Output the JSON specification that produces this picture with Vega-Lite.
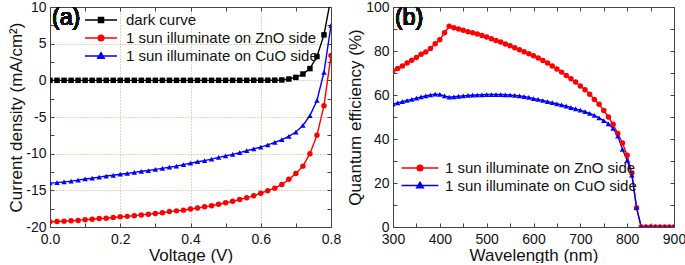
{
  "$schema": "https://vega.github.io/schema/vega-lite/v6.json",
  "padding": {"left": 7, "top": 0, "right": 0, "bottom": 0},
  "background": "white",
  "config": {
    "font": "Liberation Sans",
    "view": {"stroke": null},
    "axis": {
      "labelFont": "Liberation Sans", "titleFont": "Liberation Sans",
      "labelFontSize": 14, "titleFontSize": 17, "titleFontWeight": "normal",
      "labelColor": "#111", "titleColor": "#111",
      "domainColor": "#444", "tickColor": "#444", "domainWidth": 1, "tickWidth": 1,
      "grid": false, "labelPadding": 9, "labelFlush": false, "minExtent": 0
    },
    "legend": {"labelFont": "Liberation Sans", "labelFontSize": 15, "labelColor": "#111", "padding": 0, "labelLimit": 400}
  },
  "datasets": {
    "iv": [
      {"s":"dark curve","V":0.00,"J":0},{"s":"dark curve","V":0.02,"J":0},{"s":"dark curve","V":0.04,"J":0},{"s":"dark curve","V":0.06,"J":0},{"s":"dark curve","V":0.08,"J":0},
      {"s":"dark curve","V":0.10,"J":0},{"s":"dark curve","V":0.12,"J":0},{"s":"dark curve","V":0.14,"J":0},{"s":"dark curve","V":0.16,"J":0},{"s":"dark curve","V":0.18,"J":0},
      {"s":"dark curve","V":0.20,"J":0},{"s":"dark curve","V":0.22,"J":0},{"s":"dark curve","V":0.24,"J":0},{"s":"dark curve","V":0.26,"J":0},{"s":"dark curve","V":0.28,"J":0},
      {"s":"dark curve","V":0.30,"J":0},{"s":"dark curve","V":0.32,"J":0},{"s":"dark curve","V":0.34,"J":0},{"s":"dark curve","V":0.36,"J":0},{"s":"dark curve","V":0.38,"J":0},
      {"s":"dark curve","V":0.40,"J":0},{"s":"dark curve","V":0.42,"J":0},{"s":"dark curve","V":0.44,"J":0},{"s":"dark curve","V":0.46,"J":0},{"s":"dark curve","V":0.48,"J":0},
      {"s":"dark curve","V":0.50,"J":0},{"s":"dark curve","V":0.52,"J":0},{"s":"dark curve","V":0.54,"J":0},{"s":"dark curve","V":0.56,"J":0},{"s":"dark curve","V":0.58,"J":0.01},
      {"s":"dark curve","V":0.60,"J":0.01},{"s":"dark curve","V":0.62,"J":0.01},{"s":"dark curve","V":0.64,"J":0.02},{"s":"dark curve","V":0.66,"J":0.05},{"s":"dark curve","V":0.68,"J":0.18},
      {"s":"dark curve","V":0.70,"J":0.4},{"s":"dark curve","V":0.72,"J":0.86},{"s":"dark curve","V":0.74,"J":1.6},{"s":"dark curve","V":0.76,"J":3.25},{"s":"dark curve","V":0.78,"J":6.2},
      {"s":"dark curve","V":0.80,"J":11.3},
      {"s":"1 sun illuminate on ZnO side","V":0.00,"J":-19.3},{"s":"1 sun illuminate on ZnO side","V":0.02,"J":-19.25},{"s":"1 sun illuminate on ZnO side","V":0.04,"J":-19.2},{"s":"1 sun illuminate on ZnO side","V":0.06,"J":-19.15},{"s":"1 sun illuminate on ZnO side","V":0.08,"J":-19.1},
      {"s":"1 sun illuminate on ZnO side","V":0.10,"J":-19.0},{"s":"1 sun illuminate on ZnO side","V":0.12,"J":-18.95},{"s":"1 sun illuminate on ZnO side","V":0.14,"J":-18.85},{"s":"1 sun illuminate on ZnO side","V":0.16,"J":-18.8},{"s":"1 sun illuminate on ZnO side","V":0.18,"J":-18.7},
      {"s":"1 sun illuminate on ZnO side","V":0.20,"J":-18.6},{"s":"1 sun illuminate on ZnO side","V":0.22,"J":-18.55},{"s":"1 sun illuminate on ZnO side","V":0.24,"J":-18.45},{"s":"1 sun illuminate on ZnO side","V":0.26,"J":-18.35},{"s":"1 sun illuminate on ZnO side","V":0.28,"J":-18.25},
      {"s":"1 sun illuminate on ZnO side","V":0.30,"J":-18.15},{"s":"1 sun illuminate on ZnO side","V":0.32,"J":-18.05},{"s":"1 sun illuminate on ZnO side","V":0.34,"J":-17.9},{"s":"1 sun illuminate on ZnO side","V":0.36,"J":-17.8},{"s":"1 sun illuminate on ZnO side","V":0.38,"J":-17.7},
      {"s":"1 sun illuminate on ZnO side","V":0.40,"J":-17.55},{"s":"1 sun illuminate on ZnO side","V":0.42,"J":-17.4},{"s":"1 sun illuminate on ZnO side","V":0.44,"J":-17.25},{"s":"1 sun illuminate on ZnO side","V":0.46,"J":-17.1},{"s":"1 sun illuminate on ZnO side","V":0.48,"J":-16.9},
      {"s":"1 sun illuminate on ZnO side","V":0.50,"J":-16.7},{"s":"1 sun illuminate on ZnO side","V":0.52,"J":-16.5},{"s":"1 sun illuminate on ZnO side","V":0.54,"J":-16.25},{"s":"1 sun illuminate on ZnO side","V":0.56,"J":-16.0},{"s":"1 sun illuminate on ZnO side","V":0.58,"J":-15.75},
      {"s":"1 sun illuminate on ZnO side","V":0.60,"J":-15.4},{"s":"1 sun illuminate on ZnO side","V":0.62,"J":-15.05},{"s":"1 sun illuminate on ZnO side","V":0.64,"J":-14.7},{"s":"1 sun illuminate on ZnO side","V":0.66,"J":-14.2},{"s":"1 sun illuminate on ZnO side","V":0.68,"J":-13.5},
      {"s":"1 sun illuminate on ZnO side","V":0.70,"J":-12.7},{"s":"1 sun illuminate on ZnO side","V":0.72,"J":-11.7},{"s":"1 sun illuminate on ZnO side","V":0.74,"J":-10.0},{"s":"1 sun illuminate on ZnO side","V":0.76,"J":-7.5},{"s":"1 sun illuminate on ZnO side","V":0.78,"J":-3.45},
      {"s":"1 sun illuminate on ZnO side","V":0.80,"J":3.4},
      {"s":"1 sun illuminate on CuO side","V":0.00,"J":-14.0},{"s":"1 sun illuminate on CuO side","V":0.02,"J":-13.95},{"s":"1 sun illuminate on CuO side","V":0.04,"J":-13.85},{"s":"1 sun illuminate on CuO side","V":0.06,"J":-13.75},{"s":"1 sun illuminate on CuO side","V":0.08,"J":-13.6},
      {"s":"1 sun illuminate on CuO side","V":0.10,"J":-13.45},{"s":"1 sun illuminate on CuO side","V":0.12,"J":-13.35},{"s":"1 sun illuminate on CuO side","V":0.14,"J":-13.2},{"s":"1 sun illuminate on CuO side","V":0.16,"J":-13.05},{"s":"1 sun illuminate on CuO side","V":0.18,"J":-12.95},
      {"s":"1 sun illuminate on CuO side","V":0.20,"J":-12.8},{"s":"1 sun illuminate on CuO side","V":0.22,"J":-12.7},{"s":"1 sun illuminate on CuO side","V":0.24,"J":-12.55},{"s":"1 sun illuminate on CuO side","V":0.26,"J":-12.4},{"s":"1 sun illuminate on CuO side","V":0.28,"J":-12.3},
      {"s":"1 sun illuminate on CuO side","V":0.30,"J":-12.15},{"s":"1 sun illuminate on CuO side","V":0.32,"J":-12.0},{"s":"1 sun illuminate on CuO side","V":0.34,"J":-11.85},{"s":"1 sun illuminate on CuO side","V":0.36,"J":-11.7},{"s":"1 sun illuminate on CuO side","V":0.38,"J":-11.5},
      {"s":"1 sun illuminate on CuO side","V":0.40,"J":-11.3},{"s":"1 sun illuminate on CuO side","V":0.42,"J":-11.1},{"s":"1 sun illuminate on CuO side","V":0.44,"J":-10.95},{"s":"1 sun illuminate on CuO side","V":0.46,"J":-10.75},{"s":"1 sun illuminate on CuO side","V":0.48,"J":-10.5},
      {"s":"1 sun illuminate on CuO side","V":0.50,"J":-10.3},{"s":"1 sun illuminate on CuO side","V":0.52,"J":-10.1},{"s":"1 sun illuminate on CuO side","V":0.54,"J":-9.85},{"s":"1 sun illuminate on CuO side","V":0.56,"J":-9.6},{"s":"1 sun illuminate on CuO side","V":0.58,"J":-9.35},
      {"s":"1 sun illuminate on CuO side","V":0.60,"J":-9.1},{"s":"1 sun illuminate on CuO side","V":0.62,"J":-8.8},{"s":"1 sun illuminate on CuO side","V":0.64,"J":-8.45},{"s":"1 sun illuminate on CuO side","V":0.66,"J":-8.1},{"s":"1 sun illuminate on CuO side","V":0.68,"J":-7.65},
      {"s":"1 sun illuminate on CuO side","V":0.70,"J":-7.05},{"s":"1 sun illuminate on CuO side","V":0.72,"J":-6.15},{"s":"1 sun illuminate on CuO side","V":0.74,"J":-4.8},{"s":"1 sun illuminate on CuO side","V":0.76,"J":-2.75},{"s":"1 sun illuminate on CuO side","V":0.78,"J":1.1},
      {"s":"1 sun illuminate on CuO side","V":0.80,"J":7.5}
    ],
    "qe": [
      {"s":"1 sun illuminate on ZnO side","w":300,"q":70.9},{"s":"1 sun illuminate on ZnO side","w":310,"q":72.0},{"s":"1 sun illuminate on ZnO side","w":320,"q":73.2},{"s":"1 sun illuminate on ZnO side","w":330,"q":74.5},{"s":"1 sun illuminate on ZnO side","w":340,"q":75.8},
      {"s":"1 sun illuminate on ZnO side","w":350,"q":77.0},{"s":"1 sun illuminate on ZnO side","w":360,"q":78.5},{"s":"1 sun illuminate on ZnO side","w":370,"q":79.6},{"s":"1 sun illuminate on ZnO side","w":380,"q":81.1},{"s":"1 sun illuminate on ZnO side","w":390,"q":83.3},
      {"s":"1 sun illuminate on ZnO side","w":400,"q":85.1},{"s":"1 sun illuminate on ZnO side","w":410,"q":88.3},{"s":"1 sun illuminate on ZnO side","w":420,"q":91.2},{"s":"1 sun illuminate on ZnO side","w":430,"q":90.6},{"s":"1 sun illuminate on ZnO side","w":440,"q":90.0},
      {"s":"1 sun illuminate on ZnO side","w":450,"q":89.4},{"s":"1 sun illuminate on ZnO side","w":460,"q":88.8},{"s":"1 sun illuminate on ZnO side","w":470,"q":88.3},{"s":"1 sun illuminate on ZnO side","w":480,"q":87.7},{"s":"1 sun illuminate on ZnO side","w":490,"q":87.0},
      {"s":"1 sun illuminate on ZnO side","w":500,"q":86.4},{"s":"1 sun illuminate on ZnO side","w":510,"q":85.6},{"s":"1 sun illuminate on ZnO side","w":520,"q":84.8},{"s":"1 sun illuminate on ZnO side","w":530,"q":84.1},{"s":"1 sun illuminate on ZnO side","w":540,"q":83.2},
      {"s":"1 sun illuminate on ZnO side","w":550,"q":82.4},{"s":"1 sun illuminate on ZnO side","w":560,"q":81.5},{"s":"1 sun illuminate on ZnO side","w":570,"q":80.6},{"s":"1 sun illuminate on ZnO side","w":580,"q":79.7},{"s":"1 sun illuminate on ZnO side","w":590,"q":78.8},
      {"s":"1 sun illuminate on ZnO side","w":600,"q":77.8},{"s":"1 sun illuminate on ZnO side","w":610,"q":76.8},{"s":"1 sun illuminate on ZnO side","w":620,"q":75.7},{"s":"1 sun illuminate on ZnO side","w":630,"q":74.5},{"s":"1 sun illuminate on ZnO side","w":640,"q":73.2},
      {"s":"1 sun illuminate on ZnO side","w":650,"q":71.8},{"s":"1 sun illuminate on ZnO side","w":660,"q":70.4},{"s":"1 sun illuminate on ZnO side","w":670,"q":68.9},{"s":"1 sun illuminate on ZnO side","w":680,"q":67.4},{"s":"1 sun illuminate on ZnO side","w":690,"q":65.9},
      {"s":"1 sun illuminate on ZnO side","w":700,"q":64.1},{"s":"1 sun illuminate on ZnO side","w":710,"q":62.4},{"s":"1 sun illuminate on ZnO side","w":720,"q":60.3},{"s":"1 sun illuminate on ZnO side","w":730,"q":58.0},{"s":"1 sun illuminate on ZnO side","w":740,"q":55.8},
      {"s":"1 sun illuminate on ZnO side","w":750,"q":53.0},{"s":"1 sun illuminate on ZnO side","w":760,"q":50.0},{"s":"1 sun illuminate on ZnO side","w":770,"q":46.7},{"s":"1 sun illuminate on ZnO side","w":780,"q":42.5},{"s":"1 sun illuminate on ZnO side","w":790,"q":38.2},
      {"s":"1 sun illuminate on ZnO side","w":800,"q":32.6},{"s":"1 sun illuminate on ZnO side","w":810,"q":24.5},{"s":"1 sun illuminate on ZnO side","w":820,"q":8.8},{"s":"1 sun illuminate on ZnO side","w":830,"q":0},{"s":"1 sun illuminate on ZnO side","w":840,"q":0},
      {"s":"1 sun illuminate on ZnO side","w":850,"q":0},{"s":"1 sun illuminate on ZnO side","w":860,"q":0},{"s":"1 sun illuminate on ZnO side","w":870,"q":0},{"s":"1 sun illuminate on ZnO side","w":880,"q":0},{"s":"1 sun illuminate on ZnO side","w":890,"q":0},
      {"s":"1 sun illuminate on ZnO side","w":900,"q":0},
      {"s":"1 sun illuminate on CuO side","w":300,"q":55.8},{"s":"1 sun illuminate on CuO side","w":310,"q":56.4},{"s":"1 sun illuminate on CuO side","w":320,"q":57.0},{"s":"1 sun illuminate on CuO side","w":330,"q":57.5},{"s":"1 sun illuminate on CuO side","w":340,"q":58.0},
      {"s":"1 sun illuminate on CuO side","w":350,"q":58.6},{"s":"1 sun illuminate on CuO side","w":360,"q":59.1},{"s":"1 sun illuminate on CuO side","w":370,"q":59.6},{"s":"1 sun illuminate on CuO side","w":380,"q":60.0},{"s":"1 sun illuminate on CuO side","w":390,"q":60.4},
      {"s":"1 sun illuminate on CuO side","w":400,"q":60.3},{"s":"1 sun illuminate on CuO side","w":410,"q":59.6},{"s":"1 sun illuminate on CuO side","w":420,"q":59.0},{"s":"1 sun illuminate on CuO side","w":430,"q":59.2},{"s":"1 sun illuminate on CuO side","w":440,"q":59.4},
      {"s":"1 sun illuminate on CuO side","w":450,"q":59.6},{"s":"1 sun illuminate on CuO side","w":460,"q":59.8},{"s":"1 sun illuminate on CuO side","w":470,"q":59.9},{"s":"1 sun illuminate on CuO side","w":480,"q":60.0},{"s":"1 sun illuminate on CuO side","w":490,"q":60.1},
      {"s":"1 sun illuminate on CuO side","w":500,"q":60.2},{"s":"1 sun illuminate on CuO side","w":510,"q":60.2},{"s":"1 sun illuminate on CuO side","w":520,"q":60.2},{"s":"1 sun illuminate on CuO side","w":530,"q":60.2},{"s":"1 sun illuminate on CuO side","w":540,"q":60.1},
      {"s":"1 sun illuminate on CuO side","w":550,"q":60.0},{"s":"1 sun illuminate on CuO side","w":560,"q":59.8},{"s":"1 sun illuminate on CuO side","w":570,"q":59.6},{"s":"1 sun illuminate on CuO side","w":580,"q":59.3},{"s":"1 sun illuminate on CuO side","w":590,"q":58.9},
      {"s":"1 sun illuminate on CuO side","w":600,"q":58.4},{"s":"1 sun illuminate on CuO side","w":610,"q":58.0},{"s":"1 sun illuminate on CuO side","w":620,"q":57.5},{"s":"1 sun illuminate on CuO side","w":630,"q":57.0},{"s":"1 sun illuminate on CuO side","w":640,"q":56.5},
      {"s":"1 sun illuminate on CuO side","w":650,"q":56.0},{"s":"1 sun illuminate on CuO side","w":660,"q":55.5},{"s":"1 sun illuminate on CuO side","w":670,"q":54.9},{"s":"1 sun illuminate on CuO side","w":680,"q":54.3},{"s":"1 sun illuminate on CuO side","w":690,"q":53.7},
      {"s":"1 sun illuminate on CuO side","w":700,"q":53.1},{"s":"1 sun illuminate on CuO side","w":710,"q":52.4},{"s":"1 sun illuminate on CuO side","w":720,"q":51.6},{"s":"1 sun illuminate on CuO side","w":730,"q":50.7},{"s":"1 sun illuminate on CuO side","w":740,"q":49.6},
      {"s":"1 sun illuminate on CuO side","w":750,"q":48.4},{"s":"1 sun illuminate on CuO side","w":760,"q":46.9},{"s":"1 sun illuminate on CuO side","w":770,"q":44.8},{"s":"1 sun illuminate on CuO side","w":780,"q":41.3},{"s":"1 sun illuminate on CuO side","w":790,"q":35.3},
      {"s":"1 sun illuminate on CuO side","w":800,"q":30.3},{"s":"1 sun illuminate on CuO side","w":810,"q":23.6},{"s":"1 sun illuminate on CuO side","w":820,"q":8.8},{"s":"1 sun illuminate on CuO side","w":830,"q":0},{"s":"1 sun illuminate on CuO side","w":840,"q":0},
      {"s":"1 sun illuminate on CuO side","w":850,"q":0},{"s":"1 sun illuminate on CuO side","w":860,"q":0},{"s":"1 sun illuminate on CuO side","w":870,"q":0},{"s":"1 sun illuminate on CuO side","w":880,"q":0},{"s":"1 sun illuminate on CuO side","w":890,"q":0},
      {"s":"1 sun illuminate on CuO side","w":900,"q":0}
    ]
  },
  "spacing": 5,
  "hconcat": [
    {
      "width": 281, "height": 220,
      "data": {"name": "iv"},
      "layer": [
        {
          "mark": {"type": "line", "strokeWidth": 1.4, "clip": true},
          "encoding": {
            "x": {"field": "V", "type": "quantitative", "scale": {"domain": [0, 0.8], "nice": false, "zero": false},
              "axis": {"orient": "bottom", "title": "Voltage (V)", "values": [0,0.1,0.2,0.3,0.4,0.5,0.6,0.7,0.8], "format": ".1f",
                "labelExpr": "round(datum.value*10)%2==0 ? datum.label : ''",
                "tickSize": -4, "labelPadding": 9, "titlePadding": 1,
                "grid": true, "gridColor": "#b5b56a", "gridDash": [1, 2],
                "gridOpacity": {"condition": {"test": "datum.value>0.01 && datum.value<0.79 && round(datum.value*10)%2==0", "value": 1}, "value": 0}}},
            "y": {"field": "J", "type": "quantitative", "scale": {"domain": [-20, 10], "nice": false, "zero": false},
              "axis": {"orient": "left", "title": "Current density (mA/cm²)", "values": [-20,-17.5,-15,-12.5,-10,-7.5,-5,-2.5,0,2.5,5,7.5,10],
                "labelExpr": "datum.value % 5 == 0 ? (datum.value < 0 ? '-' + abs(datum.value) : '' + datum.value) : ''",
                "tickSize": -4, "labelPadding": 8, "titlePadding": 0,
                "grid": true, "gridColor": "#b5b56a", "gridDash": [1, 2],
                "gridOpacity": {"condition": {"test": "datum.value>-19 && datum.value<9 && datum.value % 5 == 0", "value": 1}, "value": 0}}},
            "color": {"field": "s", "type": "nominal", "scale": {"domain": ["dark curve", "1 sun illuminate on ZnO side", "1 sun illuminate on CuO side"], "range": ["#000000", "#ff0000", "#0000ff"]}, "legend": null}
          }
        },
        {
          "mark": {"type": "point", "filled": true, "opacity": 1, "size": 30, "clip": true},
          "encoding": {
            "x": {"field": "V", "type": "quantitative", "axis": null},
            "y": {"field": "J", "type": "quantitative", "axis": null},
            "color": {"field": "s", "type": "nominal", "scale": {"domain": ["dark curve", "1 sun illuminate on ZnO side", "1 sun illuminate on CuO side"], "range": ["#000000", "#ff0000", "#0000ff"]}, "legend": null},
            "shape": {"field": "s", "type": "nominal", "scale": {"domain": ["dark curve", "1 sun illuminate on ZnO side", "1 sun illuminate on CuO side"], "range": ["square", "circle", "triangle-up"]}, "legend": null}
          }
        },
        {
          "mark": {"type": "point", "filled": true, "opacity": 0, "size": 256, "clip": true},
          "encoding": {
            "x": {"field": "V", "type": "quantitative", "axis": {"orient": "top", "title": null, "labels": false, "values": [0,0.1,0.2,0.3,0.4,0.5,0.6,0.7,0.8], "tickSize": -4, "labelPadding": 0}},
            "y": {"field": "J", "type": "quantitative", "axis": {"orient": "right", "title": null, "labels": false, "values": [-20,-17.5,-15,-12.5,-10,-7.5,-5,-2.5,0,2.5,5,7.5,10], "tickSize": -4, "labelPadding": 0}},
            "fill": {"field": "s", "type": "nominal", "scale": {"domain": ["dark curve", "1 sun illuminate on ZnO side", "1 sun illuminate on CuO side"], "range": ["#000000", "#ff0000", "#0000ff"]},
              "legend": {"title": null, "orient": "none", "legendX": 42, "legendY": 4, "symbolSize": 256, "symbolStrokeWidth": 1.4, "symbolOpacity": 1, "labelOffset": 16, "rowPadding": 1}},
            "stroke": {"field": "s", "type": "nominal", "scale": {"domain": ["dark curve", "1 sun illuminate on ZnO side", "1 sun illuminate on CuO side"], "range": ["#000000", "#ff0000", "#0000ff"]},
              "legend": {"title": null, "orient": "none", "legendX": 42, "legendY": 4, "symbolSize": 256, "symbolStrokeWidth": 1.4, "symbolOpacity": 1, "labelOffset": 16, "rowPadding": 1}},
            "shape": {"field": "s", "type": "nominal", "scale": {"domain": ["dark curve", "1 sun illuminate on ZnO side", "1 sun illuminate on CuO side"],
              "range": ["M-2,0H2M-0.32,-0.32H0.32V0.32H-0.32Z", "M-2,0H2M0.36,0A0.36,0.36 0 1,1 -0.36,0A0.36,0.36 0 1,1 0.36,0Z", "M-2,0H2M0,-0.42L0.42,0.3H-0.42Z"]},
              "legend": {"title": null, "orient": "none", "legendX": 42, "legendY": 4, "symbolSize": 256, "symbolStrokeWidth": 1.4, "symbolOpacity": 1, "labelOffset": 16, "rowPadding": 1}}
          }
        },
        {
          "mark": {"type": "text", "text": "(a)", "align": "left", "baseline": "top", "fontSize": 23, "fontWeight": "normal", "font": "Liberation Sans", "color": "#111", "dx": 2, "dy": 0},
          "encoding": {
            "x": {"datum": 0, "type": "quantitative", "axis": null},
            "y": {"datum": 10, "type": "quantitative", "axis": null}
          }
        }
      ],
      "resolve": {"scale": {"color": "independent", "shape": "independent", "fill": "independent", "stroke": "independent"}, "axis": {"x": "independent", "y": "independent"}}
    },
    {
      "width": 281, "height": 220,
      "data": {"name": "qe"},
      "layer": [
        {
          "mark": {"type": "line", "strokeWidth": 1.4, "clip": true},
          "encoding": {
            "x": {"field": "w", "type": "quantitative", "scale": {"domain": [300, 900], "nice": false, "zero": false},
              "axis": {"orient": "bottom", "title": "Wavelength (nm)", "values": [300,350,400,450,500,550,600,650,700,750,800,850,900],
                "labelExpr": "datum.value % 100 == 0 ? datum.label : ''", "tickSize": -4, "labelPadding": 9, "titlePadding": 1}},
            "y": {"field": "q", "type": "quantitative", "scale": {"domain": [0, 100], "nice": false},
              "axis": {"orient": "left", "title": "Quantum efficiency (%)", "values": [0,10,20,30,40,50,60,70,80,90,100],
                "labelExpr": "datum.value % 20 == 0 ? datum.label : ''", "tickSize": -4, "labelPadding": 8, "titlePadding": 1}},
            "color": {"field": "s", "type": "nominal", "scale": {"domain": ["1 sun illuminate on ZnO side", "1 sun illuminate on CuO side"], "range": ["#ff0000", "#0000ff"]}, "legend": null}
          }
        },
        {
          "mark": {"type": "point", "filled": true, "opacity": 1, "size": 30, "clip": true},
          "encoding": {
            "x": {"field": "w", "type": "quantitative", "axis": null},
            "y": {"field": "q", "type": "quantitative", "axis": null},
            "color": {"field": "s", "type": "nominal", "scale": {"domain": ["1 sun illuminate on ZnO side", "1 sun illuminate on CuO side"], "range": ["#ff0000", "#0000ff"]}, "legend": null},
            "shape": {"field": "s", "type": "nominal", "scale": {"domain": ["1 sun illuminate on ZnO side", "1 sun illuminate on CuO side"], "range": ["circle", "triangle-up"]}, "legend": null}
          }
        },
        {
          "mark": {"type": "point", "filled": true, "opacity": 0, "size": 256, "clip": true},
          "encoding": {
            "x": {"field": "w", "type": "quantitative", "axis": {"orient": "top", "title": null, "labels": false, "values": [300,350,400,450,500,550,600,650,700,750,800,850,900], "tickSize": -4, "labelPadding": 0}},
            "y": {"field": "q", "type": "quantitative", "axis": {"orient": "right", "title": null, "labels": false, "values": [0,10,20,30,40,50,60,70,80,90,100], "tickSize": -4, "labelPadding": 0}},
            "fill": {"field": "s", "type": "nominal", "scale": {"domain": ["1 sun illuminate on ZnO side", "1 sun illuminate on CuO side"], "range": ["#ff0000", "#0000ff"]},
              "legend": {"title": null, "orient": "none", "legendX": 18, "legendY": 152, "symbolSize": 256, "symbolStrokeWidth": 1.4, "symbolOpacity": 1, "labelOffset": 16, "rowPadding": 0.5}},
            "stroke": {"field": "s", "type": "nominal", "scale": {"domain": ["1 sun illuminate on ZnO side", "1 sun illuminate on CuO side"], "range": ["#ff0000", "#0000ff"]},
              "legend": {"title": null, "orient": "none", "legendX": 18, "legendY": 152, "symbolSize": 256, "symbolStrokeWidth": 1.4, "symbolOpacity": 1, "labelOffset": 16, "rowPadding": 0.5}},
            "shape": {"field": "s", "type": "nominal", "scale": {"domain": ["1 sun illuminate on ZnO side", "1 sun illuminate on CuO side"],
              "range": ["M-2.3,0H2.3M0.36,0A0.36,0.36 0 1,1 -0.36,0A0.36,0.36 0 1,1 0.36,0Z", "M-2.3,0H2.3M0,-0.42L0.42,0.3H-0.42Z"]},
              "legend": {"title": null, "orient": "none", "legendX": 18, "legendY": 152, "symbolSize": 256, "symbolStrokeWidth": 1.4, "symbolOpacity": 1, "labelOffset": 16, "rowPadding": 0.5}}
          }
        },
        {
          "mark": {"type": "text", "text": "(b)", "align": "left", "baseline": "top", "fontSize": 23, "fontWeight": "normal", "font": "Liberation Sans", "color": "#111", "dx": 2, "dy": 0},
          "encoding": {
            "x": {"datum": 300, "type": "quantitative", "axis": null},
            "y": {"datum": 100, "type": "quantitative", "axis": null}
          }
        }
      ],
      "resolve": {"scale": {"color": "independent", "shape": "independent", "fill": "independent", "stroke": "independent"}, "axis": {"x": "independent", "y": "independent"}}
    }
  ]
}
